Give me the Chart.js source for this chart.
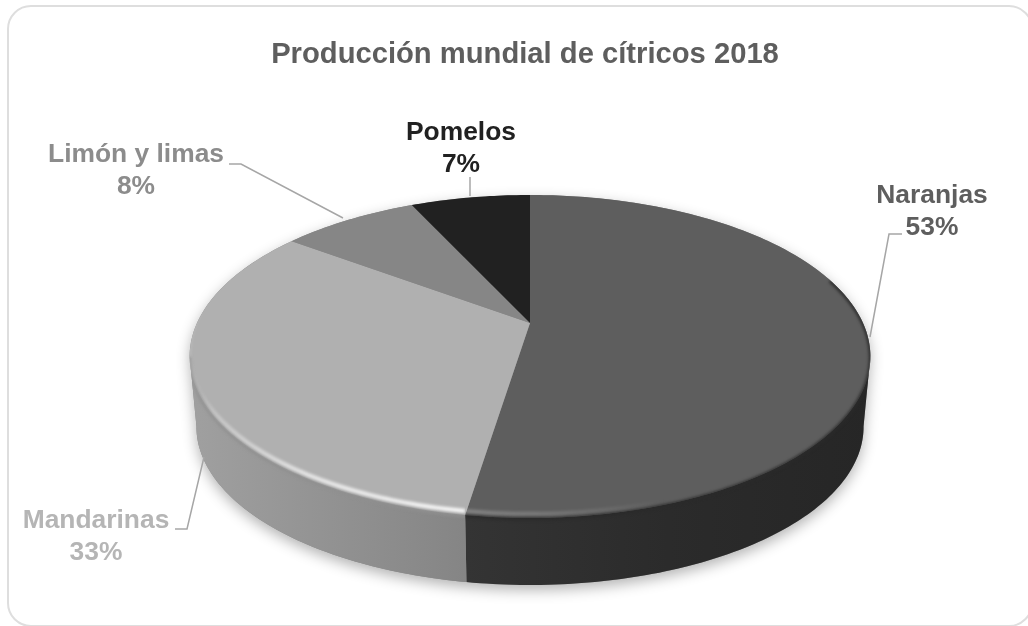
<!DOCTYPE html>
<html lang="es">
<head>
<meta charset="utf-8">
<title>Producción mundial de cítricos 2018</title>
<script src="https://cdn.jsdelivr.net/npm/chart.js@4/dist/chart.umd.js"></script>
<style>
    html, body { margin: 0; padding: 0; background: #fff; }
    #wrap { position: relative; width: 1028px; height: 626px; overflow: hidden; }
    #card {
        position: absolute; left: 7px; top: 5px; width: 1026px; height: 622px;
        border: 2px solid #dedede; border-radius: 24px; box-sizing: border-box;
    }
    #pie { position: absolute; left: 0; top: 0; }
</style>
</head>
<body>
<div id="wrap">
    <div id="card"></div>
    <canvas id="pie" width="1028" height="626"></canvas>
</div>
<script>
const categorias = ['Naranjas', 'Mandarinas', 'Limón y limas', 'Pomelos'];
const porcentajes = [53, 33, 8, 7];
const coloresCara = ['#5e5e5e', '#b0b0b0', '#868686', '#212121'];
const coloresEtiqueta = ['#5e5e5e', '#b5b5b5', '#8c8c8c', '#212121'];

// Posición de cada etiqueta y su línea guía
const etiquetas = [
    { x: 932, y: 195.5, guia: [[902, 234], [889, 234], [870, 337]] },
    { x: 96, y: 520.5, guia: [[175, 529], [187, 529], [204, 457]] },
    { x: 136, y: 155, guia: [[229, 164], [241, 164], [343, 218]] },
    { x: 461, y: 133, guia: [[470, 177], [470, 196]] },
];

// Perspectiva del disco
const ALTO_TAPA = 0.464;
const PERSPECTIVA = 0.207;
const GROSOR = 71;
const ESCALA_BASE = 0.98;
const DESVIO_X = 5;              // el título queda algo a la izquierda del disco
const ANGULO_EXTREMO = 0.206;    // punto más ancho del borde proyectado

function centroX(arc) {
    return arc.x + DESVIO_X;
}

function proyectar(arc, angulo) {
    const u = Math.cos(angulo);
    const v = Math.sin(angulo);
    const w = 1 - PERSPECTIVA * v;
    return [
        centroX(arc) + arc.outerRadius * u / w,
        arc.y + arc.outerRadius * ALTO_TAPA * v / w,
    ];
}

function puntoBase(arc, angulo) {
    const [x, y] = proyectar(arc, angulo);
    return [
        centroX(arc) + (x - centroX(arc)) * ESCALA_BASE,
        arc.y + (y - arc.y) * ESCALA_BASE + GROSOR,
    ];
}

function trazar(ctx, arc, a0, a1, punto = proyectar, dy = 0) {
    const pasos = Math.max(8, Math.ceil(Math.abs(a1 - a0) * 60));
    for (let i = 0; i <= pasos; i++) {
        const [x, y] = punto(arc, a0 + (a1 - a0) * i / pasos);
        ctx.lineTo(x, y + dy);
    }
}

// Contorno completo del disco: tapa por detrás y base por delante
function trazarSilueta(ctx, arc) {
    ctx.beginPath();
    trazar(ctx, arc, Math.PI - ANGULO_EXTREMO, Math.PI * 2 + ANGULO_EXTREMO);
    trazar(ctx, arc, ANGULO_EXTREMO, Math.PI - ANGULO_EXTREMO, puntoBase);
    ctx.closePath();
}

// Sombra difusa bajo el disco
function dibujarSombra(ctx, arcs) {
    ctx.save();
    ctx.shadowColor = 'rgba(0,0,0,0.30)';
    ctx.shadowBlur = 14;
    ctx.shadowOffsetY = 5;
    ctx.fillStyle = '#888';
    trazarSilueta(ctx, arcs[0]);
    ctx.fill();
    ctx.restore();
}

function gradienteLado(ctx, arc, i, a0, a1) {
    const grad = ctx.createLinearGradient(proyectar(arc, a0)[0], 0, proyectar(arc, a1)[0], 0);
    if (i === 0) {
        grad.addColorStop(0, '#262626');
        grad.addColorStop(0.5, '#2b2b2b');
        grad.addColorStop(1, '#343434');
    } else {
        grad.addColorStop(0, '#858585');
        grad.addColorStop(0.6, '#959595');
        grad.addColorStop(1, '#a0a0a0');
    }
    return grad;
}

// Pared lateral visible (solo la mitad frontal del borde)
function dibujarLados(ctx, arcs) {
    arcs.forEach((arc, i) => {
        const a0 = Math.max(arc.startAngle, ANGULO_EXTREMO);
        const a1 = Math.min(arc.endAngle, Math.PI - ANGULO_EXTREMO);
        if (a1 <= a0) return;
        ctx.fillStyle = gradienteLado(ctx, arc, i, a0, a1);
        ctx.beginPath();
        trazar(ctx, arc, a0, a1);
        trazar(ctx, arc, a1, a0, puntoBase);
        ctx.closePath();
        ctx.fill();
    });
}

function dibujarTapa(ctx, arcs) {
    arcs.forEach((arc, i) => {
        ctx.fillStyle = coloresCara[i];
        ctx.beginPath();
        ctx.moveTo(centroX(arc), arc.y);
        trazar(ctx, arc, arc.startAngle, arc.endAngle);
        ctx.closePath();
        ctx.fill();
    });
}

// Bisel: brillo difuso y canto oscuro en el tramo frontal de la tapa
function dibujarBisel(ctx, arcs) {
    const corte = proyectar(arcs[0], arcs[0].endAngle)[0];
    arcs.forEach((arc, i) => {
        const a0 = Math.max(arc.startAngle, -0.3);
        const a1 = Math.min(arc.endAngle, Math.PI + 0.05);
        if (a1 <= a0) return;
        const xa = proyectar(arc, a0)[0];
        const xb = proyectar(arc, a1)[0];
        ctx.save();
        trazarSilueta(ctx, arc);
        ctx.clip();
        ctx.beginPath();
        if (i === 0) ctx.rect(corte, 0, 1028 - corte, 626);
        else ctx.rect(0, 0, corte, 626);
        ctx.clip();

        // canto del color de la pared, para suavizar la unión
        ctx.filter = 'blur(1.5px)';
        ctx.strokeStyle = i === 0 ? '#2a2a2a' : '#8f8f8f';
        ctx.lineWidth = 3;
        ctx.beginPath();
        trazar(ctx, arc, a0, Math.min(a1, Math.PI - ANGULO_EXTREMO), proyectar, 1);
        ctx.stroke();

        const brillo = ctx.createLinearGradient(xa, 0, xb, 0);
        if (i === 0) {
            brillo.addColorStop(0, 'rgba(255,255,255,0)');
            brillo.addColorStop(0.45, 'rgba(255,255,255,0)');
            brillo.addColorStop(0.8, 'rgba(255,255,255,0.18)');
            brillo.addColorStop(1, 'rgba(255,255,255,0.24)');
        } else {
            brillo.addColorStop(0, 'rgba(255,255,255,0.95)');
            brillo.addColorStop(0.6, 'rgba(255,255,255,0.7)');
            brillo.addColorStop(0.95, 'rgba(255,255,255,0.3)');
            brillo.addColorStop(1, 'rgba(255,255,255,0.1)');
        }
        ctx.filter = 'blur(1.5px)';
        ctx.strokeStyle = brillo;
        ctx.lineWidth = 4;
        ctx.beginPath();
        trazar(ctx, arc, a0, a1, proyectar, -4);
        ctx.stroke();
        ctx.restore();
    });
}

function dibujarEtiquetas(ctx) {
    ctx.save();
    ctx.textAlign = 'center';
    ctx.textBaseline = 'middle';
    ctx.font = "bold 26.4px 'Liberation Sans', Arial, sans-serif";
    etiquetas.forEach((e, i) => {
        ctx.fillStyle = coloresEtiqueta[i];
        ctx.fillText(categorias[i], e.x, e.y);
        ctx.fillText(`${porcentajes[i]}%`, e.x, e.y + 32);
        ctx.strokeStyle = '#a6a6a6';
        ctx.lineWidth = 1.5;
        ctx.beginPath();
        e.guia.forEach(([x, y]) => ctx.lineTo(x, y));
        ctx.stroke();
    });
    ctx.restore();
}

const discoPlugin = {
    id: 'disco',
    beforeDatasetsDraw(chart) {
        const ctx = chart.ctx;
        const arcs = chart.getDatasetMeta(0).data;
        dibujarSombra(ctx, arcs);
        dibujarLados(ctx, arcs);
        dibujarTapa(ctx, arcs);
        dibujarBisel(ctx, arcs);
        dibujarEtiquetas(ctx);
        return false;
    },
};

new Chart(document.getElementById('pie'), {
    type: 'pie',
    data: {
        labels: categorias,
        datasets: [{ data: porcentajes, backgroundColor: coloresCara, borderWidth: 0 }],
    },
    options: {
        responsive: false,
        animation: false,
        radius: 333,
        rotation: 0,
        layout: { padding: { left: 22, top: 0, right: 0, bottom: 52 } },
        plugins: {
            legend: { display: false },
            tooltip: { enabled: false },
            title: {
                display: true,
                text: 'Producción mundial de cítricos 2018',
                color: '#5e5e5e',
                font: { family: "'Liberation Sans', Arial, sans-serif", size: 29.2, weight: 'bold' },
                padding: { top: 37, bottom: 0 },
            },
        },
    },
    plugins: [discoPlugin],
});
</script>
</body>
</html>
